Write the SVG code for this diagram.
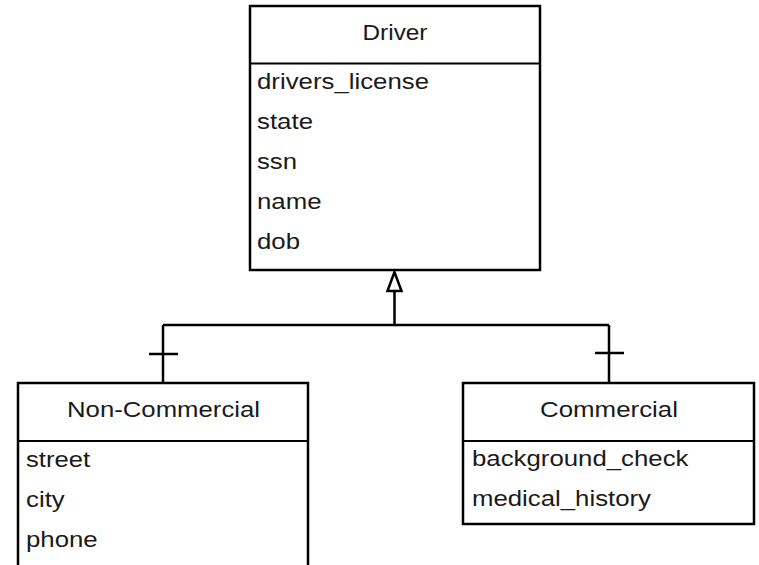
<svg xmlns="http://www.w3.org/2000/svg" width="759" height="565" viewBox="0 0 759 565">
<style>
.box{fill:#fff;stroke:#000;stroke-width:2.5}
.div{stroke:#000;stroke-width:2}
.t{font-family:"Liberation Sans",Arial,sans-serif;font-size:22px;fill:#1a1a1a}
.title{text-anchor:middle}
.c{fill:none;stroke:#000;stroke-width:2.5}
</style>
<rect width="759" height="565" fill="#fff"/>
<g id="connectors">
<path class="c" d="M394.5,292 V325 M163,325 H609 M163,325 V383 M609,325 V383 M149,354 H178 M595,353 H624"/>
<polygon points="394.5,272 387.5,291 401.5,291" fill="#fff" stroke="#000" stroke-width="2.5"/>
</g>
<g id="driver">
<rect class="box" x="250" y="6" width="290" height="264"/>
<line class="div" x1="250" y1="63.5" x2="540" y2="63.5"/>
<text class="t title" x="395" y="40" textLength="65" lengthAdjust="spacingAndGlyphs">Driver</text>
<text class="t" x="257" y="88.5" textLength="172" lengthAdjust="spacingAndGlyphs">drivers_license</text>
<text class="t" x="257" y="128.5" textLength="56" lengthAdjust="spacingAndGlyphs">state</text>
<text class="t" x="257" y="168.5" textLength="40" lengthAdjust="spacingAndGlyphs">ssn</text>
<text class="t" x="257" y="208.5" textLength="64.5" lengthAdjust="spacingAndGlyphs">name</text>
<text class="t" x="257" y="248.5" textLength="43" lengthAdjust="spacingAndGlyphs">dob</text>
</g>
<g id="non-commercial">
<rect class="box" x="18" y="383" width="290" height="200"/>
<line class="div" x1="18" y1="441" x2="308" y2="441"/>
<text class="t title" x="163.5" y="417" textLength="193" lengthAdjust="spacingAndGlyphs">Non-Commercial</text>
<text class="t" x="26" y="466.5" textLength="64" lengthAdjust="spacingAndGlyphs">street</text>
<text class="t" x="26" y="506.5" textLength="38.7" lengthAdjust="spacingAndGlyphs">city</text>
<text class="t" x="26" y="546.5" textLength="71.7" lengthAdjust="spacingAndGlyphs">phone</text>
</g>
<g id="commercial">
<rect class="box" x="463" y="383" width="291" height="141"/>
<line class="div" x1="463" y1="441" x2="754" y2="441"/>
<text class="t title" x="609" y="417" textLength="138" lengthAdjust="spacingAndGlyphs">Commercial</text>
<text class="t" x="472" y="466" textLength="216.5" lengthAdjust="spacingAndGlyphs">background_check</text>
<text class="t" x="472" y="506" textLength="179" lengthAdjust="spacingAndGlyphs">medical_history</text>
</g>
</svg>
